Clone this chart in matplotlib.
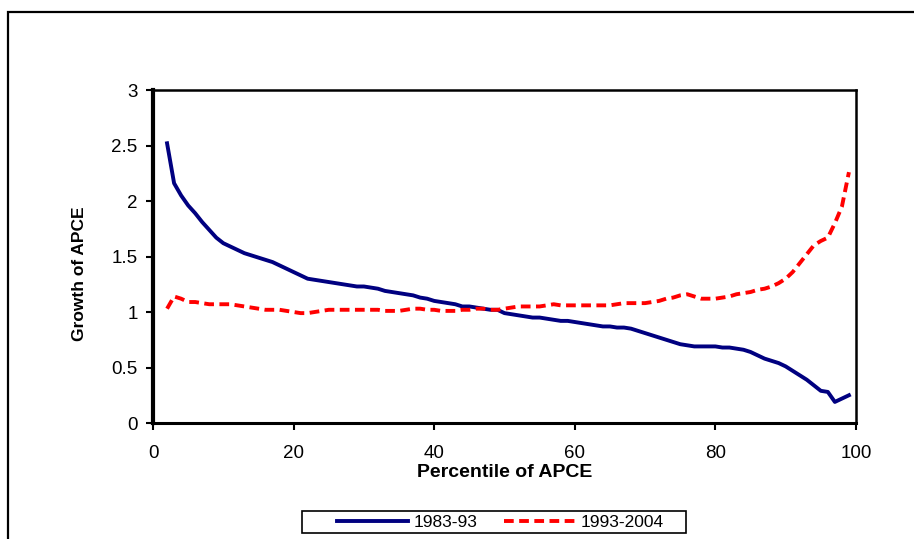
import matplotlib.pyplot as plt
from matplotlib.patches import Rectangle
import numpy as np

plt.rcParams['font.family'] = ['Liberation Sans', 'DejaVu Sans']

# percentyle 2..99
percentile = list(range(2, 100))

growth_1983_93 = [
    2.52, 2.16, 2.05, 1.96, 1.89, 1.81, 1.74, 1.67, 1.62, 1.59,
    1.56, 1.53, 1.51, 1.49, 1.47, 1.45, 1.42, 1.39, 1.36, 1.33,
    1.30, 1.29, 1.28, 1.27, 1.26, 1.25, 1.24, 1.23, 1.23, 1.22,
    1.21, 1.19, 1.18, 1.17, 1.16, 1.15, 1.13, 1.12, 1.10, 1.09,
    1.08, 1.07, 1.05, 1.05, 1.04, 1.03, 1.02, 1.02, 0.99, 0.98,
    0.97, 0.96, 0.95, 0.95, 0.94, 0.93, 0.92, 0.92, 0.91, 0.90,
    0.89, 0.88, 0.87, 0.87, 0.86, 0.86, 0.85, 0.83, 0.81, 0.79,
    0.77, 0.75, 0.73, 0.71, 0.70, 0.69, 0.69, 0.69, 0.69, 0.68,
    0.68, 0.67, 0.66, 0.64, 0.61, 0.58, 0.56, 0.54, 0.51, 0.47,
    0.43, 0.39, 0.34, 0.29, 0.28, 0.19, 0.22, 0.25,
]

growth_1993_2004 = [
    1.03, 1.14, 1.12, 1.09, 1.09, 1.08, 1.07, 1.07, 1.07, 1.07,
    1.06, 1.05, 1.04, 1.03, 1.02, 1.02, 1.02, 1.01, 1.00, 0.99,
    0.99, 1.00, 1.01, 1.02, 1.02, 1.02, 1.02, 1.02, 1.02, 1.02,
    1.02, 1.01, 1.01, 1.01, 1.02, 1.03, 1.03, 1.02, 1.02, 1.01,
    1.01, 1.01, 1.02, 1.02, 1.03, 1.03, 1.02, 1.02, 1.03, 1.04,
    1.05, 1.05, 1.05, 1.05, 1.06, 1.07, 1.06, 1.06, 1.06, 1.06,
    1.06, 1.06, 1.06, 1.06, 1.07, 1.08, 1.08, 1.08, 1.08, 1.09,
    1.10, 1.12, 1.13, 1.15, 1.16, 1.14, 1.12, 1.12, 1.12, 1.13,
    1.14, 1.16, 1.17, 1.18, 1.20, 1.21, 1.23, 1.26, 1.30, 1.36,
    1.44, 1.52, 1.60, 1.64, 1.67, 1.80, 1.95, 2.26,
]

x_ticks = [0, 20, 40, 60, 80, 100]
y_ticks = [0, 0.5, 1, 1.5, 2, 2.5, 3]
y_tick_labels = ['0', '0.5', '1', '1.5', '2', '2.5', '3']

fig = plt.figure(figsize=(9.14, 5.39), dpi=100)
ax = fig.add_axes([0.1674, 0.2152, 0.7691, 0.6178])

ax.plot(percentile, growth_1983_93, color='#000080', lw=2.8, label='1983-93')
ax.plot(percentile, growth_1993_2004, color='#ff0000', lw=2.8,
        dashes=(2.5, 1.4), label='1993-2004')

ax.set_xlim(0, 100)
ax.set_ylim(0, 3)
ax.set_xticks(x_ticks)
ax.set_yticks(y_ticks)
ax.set_yticklabels(y_tick_labels)
ax.tick_params(direction='out', length=5, width=1.5, labelsize=13.5, colors='black')
ax.tick_params(axis='x', pad=11)
ax.tick_params(axis='y', pad=6)

for name, sp in ax.spines.items():
    sp.set_color('black')
    sp.set_linewidth(1.8)
ax.spines['left'].set_linewidth(3)
ax.spines['bottom'].set_linewidth(2.2)

ax.set_xlabel('Percentile of APCE', fontsize=14, fontweight='bold', labelpad=1)
ax.set_ylabel('Growth of APCE', fontsize=12.5, fontweight='bold')
ax.yaxis.set_label_coords(-0.094, 0.449)

# ramka wokół całego wykresu
fig.patches.append(Rectangle((8 / 914, -0.1), 1.2, 0.1 + 1 - 11.5 / 539,
                             transform=fig.transFigure, fill=False,
                             edgecolor='black', lw=1.6, clip_on=False))

# ramka legendy rysowana osobno
fig.patches.append(Rectangle((302 / 914, 1 - 533 / 539), 384 / 914, 22 / 539,
                             transform=fig.transFigure, fill=False,
                             edgecolor='black', lw=1.2))

leg = fig.legend(loc='center', bbox_to_anchor=(0.5475, 0.0315), ncol=2,
                 fontsize=12.5, frameon=False,
                 handlelength=4.1, columnspacing=1.5, borderpad=0.1,
                 handletextpad=0.35)

plt.savefig('out.png', dpi=100)
